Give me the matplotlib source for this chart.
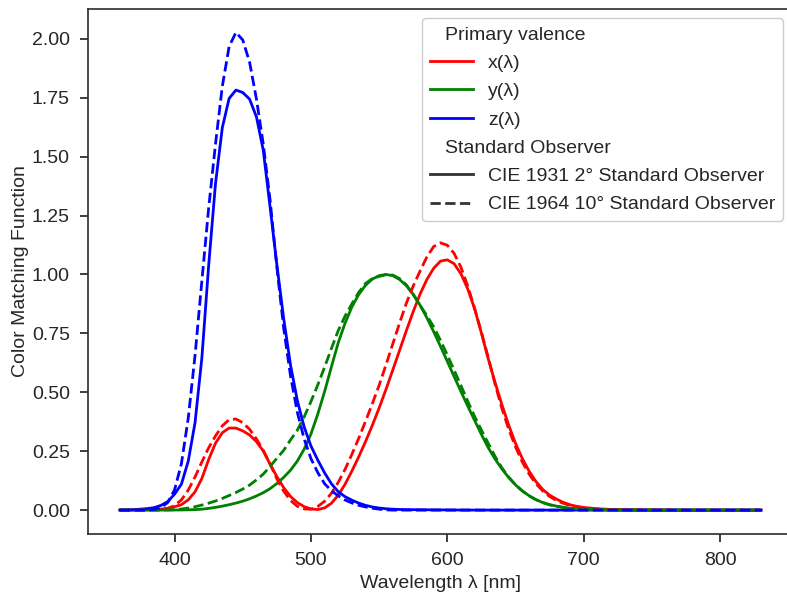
import numpy as np
import matplotlib
matplotlib.use("Agg")
import matplotlib.pyplot as plt
from matplotlib.lines import Line2D
from matplotlib.offsetbox import VPacker

# CIE colour matching functions (10 nm at the tails, 5 nm from 380 to 700 nm)
wavelengths = (
    [360, 370]
    + list(range(380, 705, 5))
    + list(range(710, 840, 10))
)

x_1931 = [
    0.000130, 0.000415,
    0.001368, 0.002236, 0.004243, 0.007650, 0.014310, 0.023190, 0.043510, 0.077630,
    0.134380, 0.214770, 0.283900, 0.328500, 0.348280, 0.348060, 0.336200, 0.318700,
    0.290800, 0.251100, 0.195360, 0.142100, 0.095640, 0.057950, 0.032010, 0.014700,
    0.004900, 0.002400, 0.009300, 0.029100, 0.063270, 0.109600, 0.165500, 0.225750,
    0.290400, 0.359700, 0.433450, 0.512050, 0.594500, 0.678400, 0.762100, 0.842500,
    0.916300, 0.978600, 1.026300, 1.056700, 1.062200, 1.045600, 1.002600, 0.938400,
    0.854450, 0.751400, 0.642400, 0.541900, 0.447900, 0.360800, 0.283500, 0.218700,
    0.164900, 0.121200, 0.087400, 0.063600, 0.046770, 0.032900, 0.022700, 0.015840,
    0.011359,
    0.005790, 0.002899, 0.001440, 0.000690, 0.000332, 0.000166, 0.000083, 0.000042,
    0.000021, 0.000010, 0.000005, 0.000003, 0.000001,
]
y_1931 = [
    0.000004, 0.000012,
    0.000039, 0.000064, 0.000120, 0.000217, 0.000396, 0.000640, 0.001210, 0.002180,
    0.004000, 0.007300, 0.011600, 0.016840, 0.023000, 0.029800, 0.038000, 0.048000,
    0.060000, 0.073900, 0.090980, 0.112600, 0.139020, 0.169300, 0.208020, 0.258600,
    0.323000, 0.407300, 0.503000, 0.608200, 0.710000, 0.793200, 0.862000, 0.914850,
    0.954000, 0.980300, 0.994950, 1.000000, 0.995000, 0.978600, 0.952000, 0.915400,
    0.870000, 0.816300, 0.757000, 0.694900, 0.631000, 0.566800, 0.503000, 0.441200,
    0.381000, 0.321000, 0.265000, 0.217000, 0.175000, 0.138200, 0.107000, 0.081600,
    0.061000, 0.044580, 0.032000, 0.023200, 0.017000, 0.011920, 0.008210, 0.005723,
    0.004102,
    0.002091, 0.001047, 0.000520, 0.000249, 0.000120, 0.000060, 0.000030, 0.000015,
    0.000008, 0.000004, 0.000002, 0.000001, 0.000001,
]
z_1931 = [
    0.000606, 0.001946,
    0.006450, 0.010550, 0.020050, 0.036210, 0.067850, 0.110200, 0.207400, 0.371300,
    0.645600, 1.039050, 1.385600, 1.622960, 1.747060, 1.782600, 1.772110, 1.744100,
    1.669200, 1.528100, 1.287640, 1.041900, 0.812950, 0.616200, 0.465180, 0.353300,
    0.272000, 0.212300, 0.158200, 0.111700, 0.078250, 0.057250, 0.042160, 0.029840,
    0.020300, 0.013400, 0.008750, 0.005750, 0.003900, 0.002750, 0.002100, 0.001800,
    0.001650, 0.001400, 0.001100, 0.001000, 0.000800, 0.000600, 0.000340, 0.000240,
    0.000190, 0.000100, 0.000050, 0.000030, 0.000020, 0.000010, 0.0, 0.0,
    0.0, 0.0, 0.0, 0.0, 0.0, 0.0, 0.0, 0.0,
    0.0,
    0.0, 0.0, 0.0, 0.0, 0.0, 0.0, 0.0, 0.0,
    0.0, 0.0, 0.0, 0.0, 0.0,
]

x_1964 = [
    0.000000, 0.000006,
    0.000160, 0.000662, 0.002362, 0.007242, 0.019110, 0.043400, 0.084736, 0.140638,
    0.204492, 0.264737, 0.314679, 0.357719, 0.383734, 0.386726, 0.370702, 0.342957,
    0.302273, 0.254085, 0.195618, 0.132349, 0.080507, 0.041072, 0.016172, 0.005132,
    0.003816, 0.015444, 0.037465, 0.071358, 0.117749, 0.172953, 0.236491, 0.304213,
    0.376772, 0.451584, 0.529826, 0.616053, 0.705224, 0.793832, 0.878655, 0.951162,
    1.014160, 1.074300, 1.118520, 1.134300, 1.123990, 1.089100, 1.030480, 0.950740,
    0.856297, 0.754930, 0.647467, 0.535110, 0.431567, 0.343690, 0.268329, 0.204300,
    0.152568, 0.112210, 0.081261, 0.057930, 0.040851, 0.028623, 0.019941, 0.013842,
    0.009577,
    0.004553, 0.002175, 0.001045, 0.000508, 0.000251, 0.000126, 0.000065, 0.000033,
    0.000018, 0.000009, 0.000005, 0.000003, 0.000002,
]
y_1964 = [
    0.000000, 0.000001,
    0.000017, 0.000072, 0.000253, 0.000769, 0.002004, 0.004509, 0.008756, 0.014456,
    0.021391, 0.029497, 0.038676, 0.049602, 0.062077, 0.074704, 0.089456, 0.106256,
    0.128201, 0.152761, 0.185190, 0.219940, 0.253589, 0.297665, 0.339133, 0.395379,
    0.460777, 0.531360, 0.606741, 0.685660, 0.761757, 0.823330, 0.875211, 0.923810,
    0.961988, 0.982200, 0.991761, 0.999110, 0.997340, 0.982380, 0.955552, 0.915175,
    0.868934, 0.825623, 0.777405, 0.720353, 0.658341, 0.593878, 0.527963, 0.461834,
    0.398057, 0.339554, 0.283493, 0.228254, 0.179828, 0.140211, 0.107633, 0.081187,
    0.060281, 0.044096, 0.031800, 0.022602, 0.015905, 0.011130, 0.007749, 0.005375,
    0.003718,
    0.001768, 0.000846, 0.000407, 0.000199, 0.000098, 0.000050, 0.000025, 0.000013,
    0.000007, 0.000004, 0.000002, 0.000001, 0.000001,
]
z_1964 = [
    0.000001, 0.000026,
    0.000705, 0.002928, 0.010482, 0.032344, 0.086011, 0.197120, 0.389366, 0.656760,
    0.972542, 1.282500, 1.553480, 1.798500, 1.967280, 2.027300, 1.994800, 1.900700,
    1.745370, 1.554900, 1.317560, 1.030200, 0.772125, 0.570060, 0.415254, 0.302356,
    0.218502, 0.159249, 0.112044, 0.082248, 0.060709, 0.043050, 0.030451, 0.020584,
    0.013676, 0.007918, 0.003988, 0.001091, 0.0, 0.0, 0.0, 0.0,
    0.0, 0.0, 0.0, 0.0, 0.0, 0.0, 0.0, 0.0,
    0.0, 0.0, 0.0, 0.0, 0.0, 0.0, 0.0, 0.0,
    0.0, 0.0, 0.0, 0.0, 0.0, 0.0, 0.0, 0.0,
    0.0,
    0.0, 0.0, 0.0, 0.0, 0.0, 0.0, 0.0, 0.0,
    0.0, 0.0, 0.0, 0.0, 0.0,
]

primary_labels = ["x(λ)", "y(λ)", "z(λ)"]
primary_colors = ["red", "green", "blue"]
observer_labels = ["CIE 1931 2° Standard Observer", "CIE 1964 10° Standard Observer"]
observer_styles = ["-", "--"]

plt.rcParams["font.family"] = ["Liberation Sans", "DejaVu Sans"]
plt.rcParams["font.size"] = 14
plt.rcParams["text.color"] = "#262626"
plt.rcParams["axes.labelcolor"] = "#262626"
plt.rcParams["xtick.color"] = "#262626"
plt.rcParams["ytick.color"] = "#262626"

fig, ax = plt.subplots(figsize=(7.87, 5.94), dpi=100)
# axes runs slightly past the right edge of the canvas, as in the reference
fig.subplots_adjust(left=88 / 787, right=793 / 787, top=1 - 8.5 / 594, bottom=1 - 534 / 594)

observers = [(x_1931, y_1931, z_1931), (x_1964, y_1964, z_1964)]
for style, funcs in zip(observer_styles, observers):
    for color, values in zip(primary_colors, funcs):
        ax.plot(wavelengths, values, color=color, linestyle=style, linewidth=2,
                solid_joinstyle="round", dash_joinstyle="round")

for side in ["left", "bottom", "right", "top"]:
    ax.spines[side].set_color("#333333")
    ax.spines[side].set_linewidth(1.25)
ax.tick_params(direction="out", length=6, width=1.25, labelsize=14, pad=7)
ax.set_yticks([0.0, 0.25, 0.5, 0.75, 1.0, 1.25, 1.5, 1.75, 2.0])
ax.set_yticklabels([f"{v:.2f}" for v in ax.get_yticks()])
ax.set_xlabel("Wavelength λ [nm]", fontsize=14, labelpad=4)
ax.set_ylabel("Color Matching Function", fontsize=14, labelpad=2)

blank = Line2D([], [], visible=False)
handles = [blank]
labels = ["Primary valence"]
for color, label in zip(primary_colors, primary_labels):
    handles.append(Line2D([], [], color=color, linewidth=2))
    labels.append(label)
handles.append(blank)
labels.append("Standard Observer")
for style, label in zip(observer_styles, observer_labels):
    handles.append(Line2D([], [], color="#333333", linestyle=style, linewidth=2))
    labels.append(label)
leg = ax.legend(handles, labels, loc="upper right", fontsize=14, frameon=True,
                edgecolor="#cccccc", framealpha=1.0, labelspacing=0.55,
                handlelength=2.2)

# subtitles: collapse the empty handle box so the text shifts left
for hpack in leg.findobj(VPacker)[0].get_children():
    draw_area, text_area = hpack.get_children()
    if not all(artist.get_visible() for artist in draw_area.get_children()):
        draw_area.set_width(0)

fig.savefig("out.png", dpi=100)
